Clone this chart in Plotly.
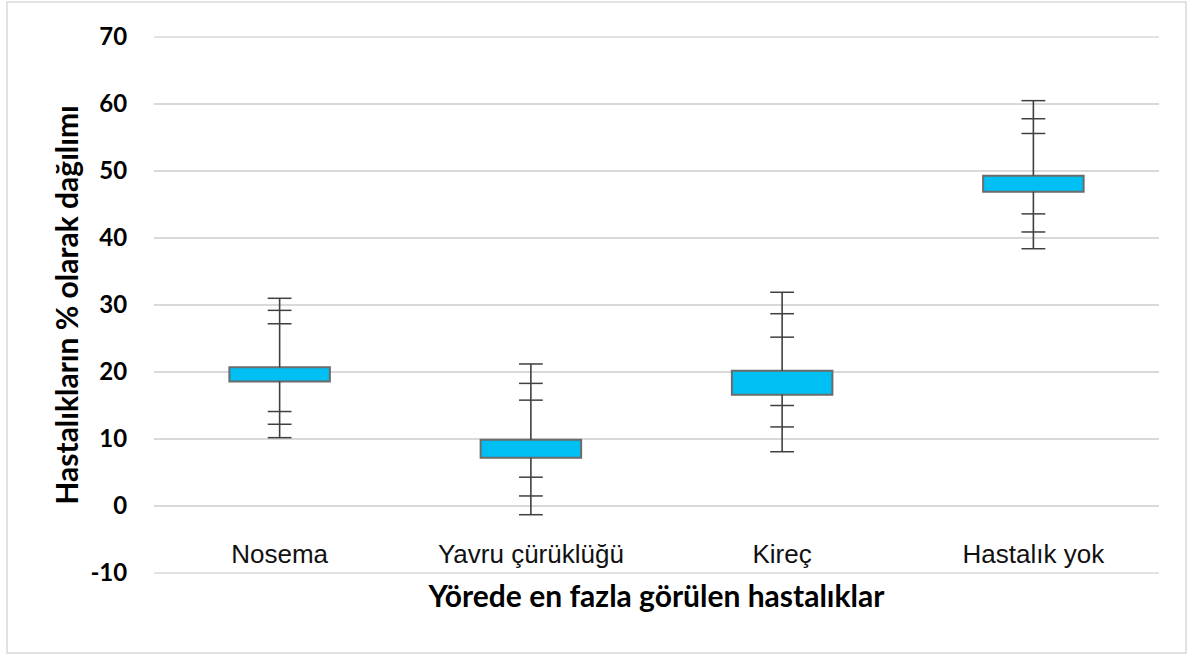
import plotly.graph_objects as go

categories = ["Nosema", "Yavru çürüklüğü", "Kireç", "Hastalık yok"]
box_low = [18.6, 7.2, 16.6, 46.9]
box_high = [20.7, 9.9, 20.2, 49.3]
minimum = [10.2, -1.3, 8.1, 38.4]
lower_2 = [12.2, 1.5, 11.8, 40.9]
lower_1 = [14.1, 4.3, 15.0, 43.6]
upper_1 = [27.2, 15.8, 25.2, 55.6]
upper_2 = [29.2, 18.3, 28.7, 57.8]
maximum = [31.0, 21.2, 31.9, 60.5]

y_ticks = [-10, 0, 10, 20, 30, 40, 50, 60, 70]
y_tick_labels = ["-10", "0", "10", "20", "30", "40", "50", "60", "70"]

W, H = 1189, 655
ml, mr, mt, mb = 154, 30, 37, 82
pw = W - ml - mr
ph = H - mt - mb
y_range = [y_ticks[0], y_ticks[-1]]
grid_color = "#d9d9d9"

fig = go.Figure()

# whiskers (two segments so the box is not crossed)
wx, wy = [], []
for c, lo, hi, mn, mx in zip(categories, box_low, box_high, minimum, maximum):
    wx += [c, c, None, c, c, None]
    wy += [mn, lo, None, hi, mx, None]
fig.add_trace(go.Scatter(x=wx, y=wy, mode="lines",
                         line=dict(color="#404040", width=1.6),
                         hoverinfo="skip", showlegend=False))

# tick marks
tx, ty = [], []
for arr in (minimum, lower_2, lower_1, upper_1, upper_2, maximum):
    tx += categories
    ty += arr
fig.add_trace(go.Scatter(x=tx, y=ty, mode="markers",
                         marker=dict(symbol="line-ew", size=17,
                                     line=dict(color="#404040", width=1.5)),
                         showlegend=False))

# boxes
fig.add_trace(go.Bar(x=categories,
                     y=[h - l for h, l in zip(box_high, box_low)],
                     base=box_low, width=0.4,
                     marker=dict(color="#00BFF3",
                                 line=dict(color="#6b6b6b", width=2)),
                     showlegend=False))

label_axis_px = 536  # window y where category labels hang from
fig.update_layout(
    width=W, height=H,
    margin=dict(l=ml, r=mr, t=mt, b=mb),
    paper_bgcolor="white", plot_bgcolor="white",
    xaxis=dict(
        type="category",
        categoryorder="array", categoryarray=categories,
        range=[-0.5, 3.5],
        anchor="free", position=(H - mb - label_axis_px) / ph,
        showgrid=False, zeroline=False, showline=False,
        ticks="",
        tickfont=dict(family="Liberation Sans, Arial", size=26, color="#111111"),
        title=dict(text="Yörede en fazla görülen hastalıklar",
                   font=dict(family="Lato", size=30, color="#000000", weight="bold"),
                   standoff=17),
    ),
    yaxis=dict(
        range=y_range,
        tickvals=y_ticks, ticktext=y_tick_labels,
        showgrid=True, gridcolor=grid_color, gridwidth=1.5,
        zeroline=False, showline=False,
        ticks="outside", ticklen=21, tickcolor="rgba(0,0,0,0)",
        tickfont=dict(family="Lato", size=24, color="#000000", weight="bold"),
        title=dict(text="Hastalıkların % olarak dağılımı",
                   font=dict(family="Lato", size=30, color="#000000", weight="bold"),
                   standoff=2),
    ),
)

# gridlines at the two ends of the value axis (plotly skips edge gridlines)
for v in (y_ticks[0], y_ticks[-1]):
    yp = (v - y_range[0]) / (y_range[1] - y_range[0])
    fig.add_shape(type="line", xref="paper", yref="paper",
                  x0=0, x1=1, y0=yp, y1=yp,
                  line=dict(color=grid_color, width=1.5), layer="below")

# outer chart border
fig.add_shape(type="rect", xref="paper", yref="paper",
              x0=(7 - ml) / pw, x1=(1186 - ml) / pw,
              y0=(H - mb - 653) / ph, y1=(H - mb - 2) / ph,
              line=dict(color=grid_color, width=1.5), fillcolor="rgba(0,0,0,0)",
              layer="below")

fig.write_html("out.html", config={"displayModeBar": False},
               post_script="document.body.style.margin='0';document.body.style.padding='0';")
